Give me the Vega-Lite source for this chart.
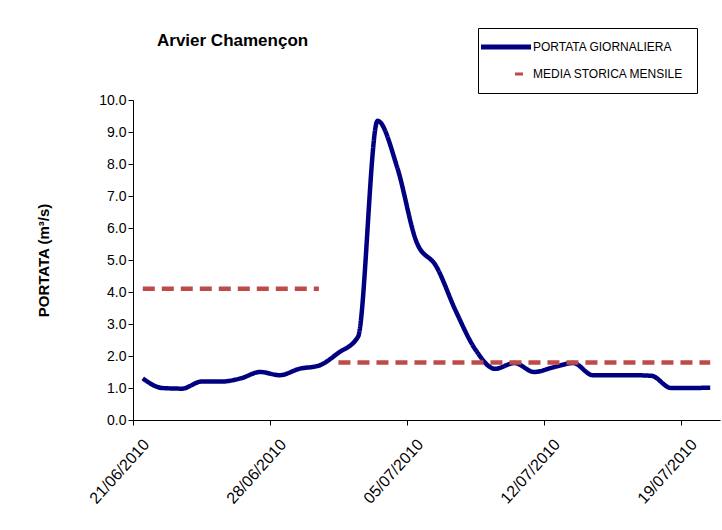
{
  "$schema": "https://vega.github.io/schema/vega-lite/v6.json",
  "width": 587,
  "height": 320,
  "autosize": {"type": "none"},
  "padding": {"left": 133, "top": 100, "right": 2, "bottom": 110},
  "background": "white",
  "config": {
    "view": {"stroke": null},
    "font": "Liberation Sans",
    "axis": {"domainColor": "black", "tickColor": "black", "labelColor": "black", "titleColor": "black", "grid": false, "labelFont": "Liberation Sans", "labelFontSize": 14, "tickSize": 5}
  },
  "title": {"text": "Arvier Chamençon", "anchor": "start", "frame": "group", "dx": 24, "offset": -22, "fontSize": 17, "fontWeight": "bold", "font": "Liberation Sans", "color": "black"},
  "data": {"values": [
    {"data": "2010-06-21T12:00:00", "serie": "PORTATA GIORNALIERA", "gruppo": "p", "q": 1.30},
    {"data": "2010-06-22T12:00:00", "serie": "PORTATA GIORNALIERA", "gruppo": "p", "q": 1.00},
    {"data": "2010-06-23T12:00:00", "serie": "PORTATA GIORNALIERA", "gruppo": "p", "q": 0.98},
    {"data": "2010-06-24T12:00:00", "serie": "PORTATA GIORNALIERA", "gruppo": "p", "q": 1.20},
    {"data": "2010-06-25T12:00:00", "serie": "PORTATA GIORNALIERA", "gruppo": "p", "q": 1.20},
    {"data": "2010-06-26T12:00:00", "serie": "PORTATA GIORNALIERA", "gruppo": "p", "q": 1.30},
    {"data": "2010-06-27T12:00:00", "serie": "PORTATA GIORNALIERA", "gruppo": "p", "q": 1.50},
    {"data": "2010-06-28T12:00:00", "serie": "PORTATA GIORNALIERA", "gruppo": "p", "q": 1.40},
    {"data": "2010-06-29T12:00:00", "serie": "PORTATA GIORNALIERA", "gruppo": "p", "q": 1.60},
    {"data": "2010-06-30T12:00:00", "serie": "PORTATA GIORNALIERA", "gruppo": "p", "q": 1.70},
    {"data": "2010-07-01T12:00:00", "serie": "PORTATA GIORNALIERA", "gruppo": "p", "q": 2.10},
    {"data": "2010-07-02T12:00:00", "serie": "PORTATA GIORNALIERA", "gruppo": "p", "q": 2.60},
    {"data": "2010-07-03T12:00:00", "serie": "PORTATA GIORNALIERA", "gruppo": "p", "q": 9.35},
    {"data": "2010-07-04T12:00:00", "serie": "PORTATA GIORNALIERA", "gruppo": "p", "q": 7.90},
    {"data": "2010-07-05T12:00:00", "serie": "PORTATA GIORNALIERA", "gruppo": "p", "q": 5.55},
    {"data": "2010-07-06T12:00:00", "serie": "PORTATA GIORNALIERA", "gruppo": "p", "q": 4.80},
    {"data": "2010-07-07T12:00:00", "serie": "PORTATA GIORNALIERA", "gruppo": "p", "q": 3.40},
    {"data": "2010-07-08T12:00:00", "serie": "PORTATA GIORNALIERA", "gruppo": "p", "q": 2.20},
    {"data": "2010-07-09T12:00:00", "serie": "PORTATA GIORNALIERA", "gruppo": "p", "q": 1.60},
    {"data": "2010-07-10T12:00:00", "serie": "PORTATA GIORNALIERA", "gruppo": "p", "q": 1.78},
    {"data": "2010-07-11T12:00:00", "serie": "PORTATA GIORNALIERA", "gruppo": "p", "q": 1.50},
    {"data": "2010-07-12T12:00:00", "serie": "PORTATA GIORNALIERA", "gruppo": "p", "q": 1.65},
    {"data": "2010-07-13T12:00:00", "serie": "PORTATA GIORNALIERA", "gruppo": "p", "q": 1.78},
    {"data": "2010-07-14T12:00:00", "serie": "PORTATA GIORNALIERA", "gruppo": "p", "q": 1.40},
    {"data": "2010-07-15T12:00:00", "serie": "PORTATA GIORNALIERA", "gruppo": "p", "q": 1.40},
    {"data": "2010-07-16T12:00:00", "serie": "PORTATA GIORNALIERA", "gruppo": "p", "q": 1.40},
    {"data": "2010-07-17T12:00:00", "serie": "PORTATA GIORNALIERA", "gruppo": "p", "q": 1.38},
    {"data": "2010-07-18T12:00:00", "serie": "PORTATA GIORNALIERA", "gruppo": "p", "q": 1.00},
    {"data": "2010-07-19T12:00:00", "serie": "PORTATA GIORNALIERA", "gruppo": "p", "q": 1.00},
    {"data": "2010-07-20T12:00:00", "serie": "PORTATA GIORNALIERA", "gruppo": "p", "q": 1.01},
    {"data": "2010-06-21T12:00:00", "serie": "MEDIA STORICA MENSILE", "gruppo": "giugno", "q": 4.1},
    {"data": "2010-06-22T12:00:00", "serie": "MEDIA STORICA MENSILE", "gruppo": "giugno", "q": 4.1},
    {"data": "2010-06-23T12:00:00", "serie": "MEDIA STORICA MENSILE", "gruppo": "giugno", "q": 4.1},
    {"data": "2010-06-24T12:00:00", "serie": "MEDIA STORICA MENSILE", "gruppo": "giugno", "q": 4.1},
    {"data": "2010-06-25T12:00:00", "serie": "MEDIA STORICA MENSILE", "gruppo": "giugno", "q": 4.1},
    {"data": "2010-06-26T12:00:00", "serie": "MEDIA STORICA MENSILE", "gruppo": "giugno", "q": 4.1},
    {"data": "2010-06-27T12:00:00", "serie": "MEDIA STORICA MENSILE", "gruppo": "giugno", "q": 4.1},
    {"data": "2010-06-28T12:00:00", "serie": "MEDIA STORICA MENSILE", "gruppo": "giugno", "q": 4.1},
    {"data": "2010-06-29T12:00:00", "serie": "MEDIA STORICA MENSILE", "gruppo": "giugno", "q": 4.1},
    {"data": "2010-06-30T12:00:00", "serie": "MEDIA STORICA MENSILE", "gruppo": "giugno", "q": 4.1},
    {"data": "2010-07-01T12:00:00", "serie": "MEDIA STORICA MENSILE", "gruppo": "luglio", "q": 1.8},
    {"data": "2010-07-02T12:00:00", "serie": "MEDIA STORICA MENSILE", "gruppo": "luglio", "q": 1.8},
    {"data": "2010-07-03T12:00:00", "serie": "MEDIA STORICA MENSILE", "gruppo": "luglio", "q": 1.8},
    {"data": "2010-07-04T12:00:00", "serie": "MEDIA STORICA MENSILE", "gruppo": "luglio", "q": 1.8},
    {"data": "2010-07-05T12:00:00", "serie": "MEDIA STORICA MENSILE", "gruppo": "luglio", "q": 1.8},
    {"data": "2010-07-06T12:00:00", "serie": "MEDIA STORICA MENSILE", "gruppo": "luglio", "q": 1.8},
    {"data": "2010-07-07T12:00:00", "serie": "MEDIA STORICA MENSILE", "gruppo": "luglio", "q": 1.8},
    {"data": "2010-07-08T12:00:00", "serie": "MEDIA STORICA MENSILE", "gruppo": "luglio", "q": 1.8},
    {"data": "2010-07-09T12:00:00", "serie": "MEDIA STORICA MENSILE", "gruppo": "luglio", "q": 1.8},
    {"data": "2010-07-10T12:00:00", "serie": "MEDIA STORICA MENSILE", "gruppo": "luglio", "q": 1.8},
    {"data": "2010-07-11T12:00:00", "serie": "MEDIA STORICA MENSILE", "gruppo": "luglio", "q": 1.8},
    {"data": "2010-07-12T12:00:00", "serie": "MEDIA STORICA MENSILE", "gruppo": "luglio", "q": 1.8},
    {"data": "2010-07-13T12:00:00", "serie": "MEDIA STORICA MENSILE", "gruppo": "luglio", "q": 1.8},
    {"data": "2010-07-14T12:00:00", "serie": "MEDIA STORICA MENSILE", "gruppo": "luglio", "q": 1.8},
    {"data": "2010-07-15T12:00:00", "serie": "MEDIA STORICA MENSILE", "gruppo": "luglio", "q": 1.8},
    {"data": "2010-07-16T12:00:00", "serie": "MEDIA STORICA MENSILE", "gruppo": "luglio", "q": 1.8},
    {"data": "2010-07-17T12:00:00", "serie": "MEDIA STORICA MENSILE", "gruppo": "luglio", "q": 1.8},
    {"data": "2010-07-18T12:00:00", "serie": "MEDIA STORICA MENSILE", "gruppo": "luglio", "q": 1.8},
    {"data": "2010-07-19T12:00:00", "serie": "MEDIA STORICA MENSILE", "gruppo": "luglio", "q": 1.8},
    {"data": "2010-07-20T12:00:00", "serie": "MEDIA STORICA MENSILE", "gruppo": "luglio", "q": 1.8}
  ]},
  "mark": {"type": "line", "interpolate": "monotone", "strokeWidth": 4.5},
  "encoding": {
    "x": {
      "field": "data", "type": "temporal",
      "scale": {"domain": [{"year": 2010, "month": 6, "date": 21}, {"year": 2010, "month": 7, "date": 21}]},
      "axis": {
        "title": null,
        "format": "%d/%m/%Y",
        "labelAngle": -48,
        "labelAlign": "right",
        "labelBaseline": "top",
        "labelFontSize": 16,
        "labelOffset": 7,
        "labelPadding": 11,
        "values": [{"year": 2010, "month": 6, "date": 21}, {"year": 2010, "month": 6, "date": 28}, {"year": 2010, "month": 7, "date": 5}, {"year": 2010, "month": 7, "date": 12}, {"year": 2010, "month": 7, "date": 19}]
      }
    },
    "y": {
      "field": "q", "type": "quantitative",
      "scale": {"domain": [0, 10], "nice": false},
      "axis": {"title": "PORTATA (m³/s)", "format": ".1f", "tickCount": 10, "titleFontSize": 15, "titleFontWeight": "bold", "titlePadding": 47, "titleFont": "Liberation Sans"}
    },
    "detail": {"field": "gruppo"},
    "color": {
      "field": "serie", "type": "nominal",
      "scale": {"domain": ["PORTATA GIORNALIERA", "MEDIA STORICA MENSILE"], "range": ["#000080", "#BE4B48"]},
      "legend": {
        "title": null,
        "orient": "none",
        "legendX": 345,
        "legendY": -72,
        "direction": "vertical",
        "symbolType": "stroke",
        "symbolSize": 2500,
        "symbolStrokeWidth": 5,
        "symbolOffset": 9,
        "labelFont": "Liberation Sans",
        "labelFontSize": 12,
        "labelColor": "black",
        "labelOffset": 21,
        "rowPadding": 11,
        "padding": 13,
        "strokeColor": "black",
        "fillColor": "white",
        "encode": {
          "symbols": {"update": {
            "strokeDash": {"signal": "datum.value === 'MEDIA STORICA MENSILE' ? [0, 34, 8, 100] : [1, 0]"},
            "strokeWidth": {"signal": "datum.value === 'MEDIA STORICA MENSILE' ? 3 : 5"}
          }}
        }
      }
    },
    "strokeDash": {
      "condition": {"test": "datum.serie === 'MEDIA STORICA MENSILE'", "value": [12, 7]},
      "value": [1, 0]
    }
  }
}
